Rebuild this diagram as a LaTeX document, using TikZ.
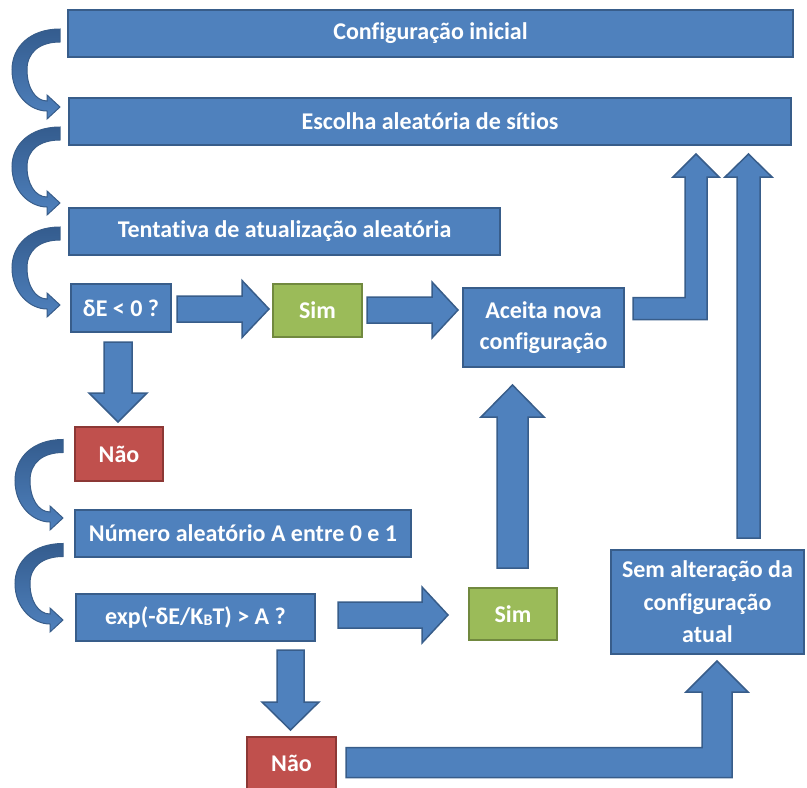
\documentclass[tikz,border=0pt]{standalone}
\usepackage{fontspec}
\setmainfont{Carlito}[Ligatures=NoCommon]
\usetikzlibrary{calc}
\definecolor{boxfill}{RGB}{79,129,189}
\definecolor{boxedge}{RGB}{56,93,138}
\definecolor{bendtop}{RGB}{52,92,142}
\definecolor{simfill}{RGB}{155,187,89}
\definecolor{simedge}{RGB}{113,137,63}
\definecolor{naofill}{RGB}{192,80,77}
\definecolor{naoedge}{RGB}{140,56,53}
\tikzset{
  box/.style={fill=#1fill,draw=#1edge,line width=1.8pt,text=white,inner sep=0pt,outer sep=0pt,
    align=center,font=\fontsize{24}{31}\selectfont\bfseries},
  box/.default=box,
  wh/.style 2 args={minimum width=#1pt,minimum height=#2pt},
  blk/.style={fill=boxfill,draw=boxedge,line width=1.5pt,line join=miter},
  curvedblk/.style={top color=bendtop,bottom color=boxfill,draw=boxedge,line width=1pt},
  blkshaft/.store in=\blkshaft,blkhead/.store in=\blkhead,blktip/.store in=\blktip,
  blkshaft=13pt,blkhead=28pt,blktip=27pt,
}
% seta larga reta: #2 cauda, #3 ponta
\newcommand\blockarrow[3][]{%
  \path[blk,#1] let \p1=(#2), \p2=(#3), \n1={atan2(\y2-\y1,\x2-\x1)}, \n2={veclen(\x2-\x1,\y2-\y1)} in
    [shift={(\p1)},rotate=\n1]
    (0pt,-\blkshaft) -- (\n2-\blktip,-\blkshaft) -- (\n2-\blktip,-\blkhead) -- (\n2,0pt)
    -- (\n2-\blktip,\blkhead) -- (\n2-\blktip,\blkshaft) -- (0pt,\blkshaft) -- cycle;
}
% seta larga em L: horizontal e depois para cima
\newcommand\elbowarrow[3][]{%
  \path[blk,#1] let \p1=(#2), \p2=(#3) in
    (\x1,\y1-\blkshaft) -- (\x2+\blkshaft,\y1-\blkshaft) -- (\x2+\blkshaft,\y2-\blktip)
    -- (\x2+\blkhead,\y2-\blktip) -- (\x2,\y2) -- (\x2-\blkhead,\y2-\blktip) -- (\x2-\blkshaft,\y2-\blktip)
    -- (\x2-\blkshaft,\y1+\blkshaft) -- (\x1,\y1+\blkshaft) -- cycle;
}
% seta curva do lado esquerdo
\newcommand\bendarrow[2]{%
  \path[curvedblk] let \p1=(#1), \p2=(#2), \n1={\y1-\y2} in
    (\x1,\y1+6.5pt) .. controls (\x1-30pt,\y1+6.5pt) and (\x2-48pt,{\y2+0.84*\n1}) .. (\x2-48pt,{\y2+0.52*\n1})
    .. controls (\x2-48pt,{\y2+0.17*\n1}) and (\x2-30pt,\y2-4pt) .. (\x2-13pt,\y2-4pt)
    -- (\x2-13pt,\y2-12pt) -- (\x2,\y2) -- (\x2-13pt,\y2+12pt) -- (\x2-13pt,\y2+6pt)
    .. controls (\x2-25pt,\y2+6pt) and (\x2-33pt,{\y2+0.28*\n1}) .. (\x2-33pt,{\y2+0.52*\n1})
    .. controls (\x2-33pt,{\y2+0.77*\n1}) and (\x1-20pt,\y1-6.5pt) .. (\x1,\y1-6.5pt) -- cycle;
}
\begin{document}
\begin{tikzpicture}[x=1pt,y=-1pt]
  \useasboundingbox (0,0) rectangle (807,788);
  % caixas
  \node[box,wh={725}{47}] (init) at (430.5,33.5) {Configuração inicial};
  \node[box,wh={722}{47}] (escolha) at (430,121.5) {Escolha aleatória de sítios};
  \node[box,wh={431}{47}] (tent) at (284.5,231.5) {Tentativa de atualização aleatória};
  \node[box,wh={100}{48}] (dE) at (121,308) {δE < 0 ?};
  \node[box=sim,wh={89}{53}] (sim1) at (317.5,310.5) {Sim};
  \node[box,wh={161}{79}] (aceita) at (543.5,327.5) {Aceita nova\\configuração};
  \node[box=nao,wh={88}{54}] (nao1) at (119,454) {Não};
  \node[box,wh={336}{47}] (num) at (243,533.5) {Número aleatório A entre 0 e 1};
  \node[box,wh={239}{47}] (expb) at (195.5,617.5) {exp(-δE/K\raisebox{-1pt}{\fontsize{16}{16}\selectfont B}T) > A ?};
  \node[box=sim,wh={88}{52}] (sim2) at (513,614) {Sim};
  \node[box,wh={193}{104},font=\fontsize{24}{32.5}\selectfont\bfseries] (sem) at (707.5,602) {Sem alteração da\\configuração\\atual};
  \node[box=nao,wh={89}{52}] (nao2) at (291.5,763) {Não};
  % setas curvas
  \bendarrow{$(init.west)+(-8,2)$}{$(escolha.west)+(-9,-14.5)$}
  \bendarrow{$(escolha.west)+(-9,12)$}{$(tent.west)+(-9,-28.5)$}
  \bendarrow{$(tent.west)+(-9,2)$}{$(dE.west)+(-11,-3)$}
  \bendarrow{$(nao1.west)+(-12,-8)$}{$(num.west)+(-12,-15.5)$}
  \bendarrow{$(num.west)+(-12,16.5)$}{$(expb.west)+(-13,2.5)$}
  % setas largas
  \blockarrow[blkhead=28.5pt]{$(dE.east)+(6,1)$}{$(sim1.west)+(-4,-1.5)$}
  \blockarrow[blktip=26pt]{$(sim1.east)+(5,-0.5)$}{$(aceita.west)+(-5,-17.5)$}
  \blockarrow[blkshaft=14pt,blkhead=29pt,blktip=29pt]{$(dE.south)+(-3,10)$}{$(nao1.north)+(-1,-5)$}
  \blockarrow[blktip=26pt]{$(expb.east)+(23,-2.5)$}{$(sim2.west)+(-21,1)$}
  \blockarrow[blkshaft=15.5pt,blkhead=31.5pt,blktip=32pt]{$(sim2.north)+(-0.5,-20)$}{$(aceita.south)+(-31,18)$}
  \blockarrow[blkshaft=13.5pt,blkhead=28.5pt,blktip=28pt]{$(expb.south east)+(-24.5,9)$}{$(nao2.north)+(-1,-7)$}
  \blockarrow[blkshaft=11.5pt,blkhead=23.5pt,blktip=23pt]{$(sem.north)+(41,-12)$}{$(escolha.south east)+(-42.5,9)$}
  \elbowarrow[blkshaft=11pt,blkhead=23pt,blktip=23pt]{$(aceita.east)+(9,-19)$}{$(escolha.south east)+(-95,9)$}
  \elbowarrow[blkshaft=15pt,blkhead=31pt,blktip=31pt]{$(nao2.east)+(10,-0.5)$}{$(sem.south)+(9.5,7)$}
\end{tikzpicture}
\end{document}
